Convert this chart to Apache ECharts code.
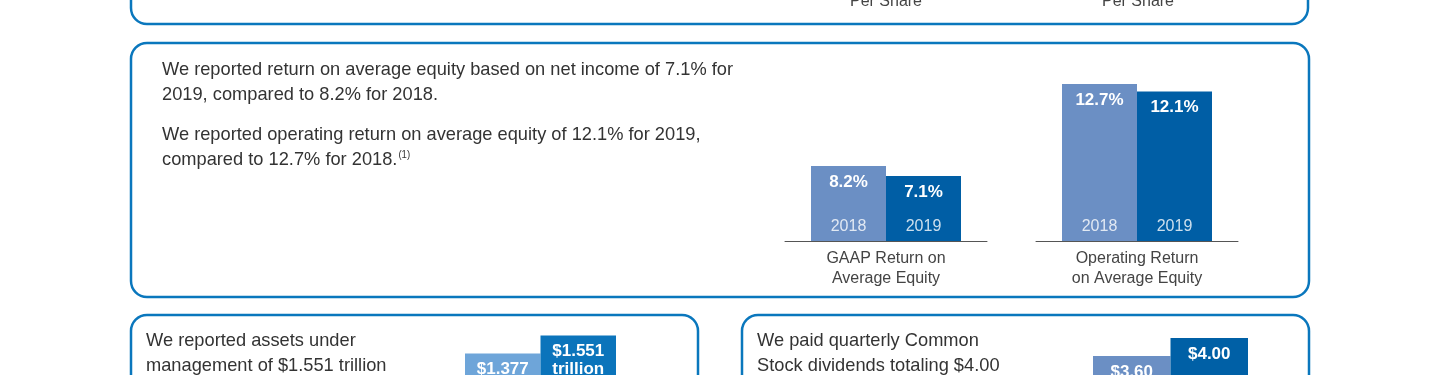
<!DOCTYPE html>
<html>
<head>
<meta charset="utf-8">
<script src="https://cdn.jsdelivr.net/npm/echarts@6/dist/echarts.min.js"></script>
<style>
  html, body { margin: 0; padding: 0; background: #fff; height: 375px; overflow: hidden; }
  /* the page carries on below the window; the lower charts are cut off like in the source */
  #chart { width: 1440px; height: 560px; }
</style>
</head>
<body>
<div id="chart"></div>
<script>
// data
const years = ['2018', '2019']
const gaapRoe = [8.2, 7.1]
const gaapRoeLabels = ['8.2%', '7.1%']
const operatingRoe = [12.7, 12.1]
const operatingRoeLabels = ['12.7%', '12.1%']
const aum = [1.377, 1.551]
const aumLabels = ['$1.377\ntrillion', '$1.551\ntrillion']
const dividends = [3.6, 4.0]
const dividendLabels = ['$3.60', '$4.00']

const BODY_FONT = '"Liberation Sans", Arial, sans-serif'
const LABEL_FONT = '"Liberation Sans", Arial, sans-serif'
const BORDER = '#0a77bd'

// body copy in the source is a condensed face; squeeze a regular one to the same measure
const ctx = document.createElement('canvas').getContext('2d')
ctx.font = '19px ' + BODY_FONT
const squeeze = 571 / ctx.measureText('We reported return on average equity based on net income of 7.1% for').width

const chart = echarts.init(document.getElementById('chart'))

// one small bar chart = a bar grid + a wider grid carrying the baseline and name
function barBlock(idx, cfg) {
  const grids = [
    { left: cfg.left, top: cfg.top, width: cfg.width, height: cfg.height },
    { left: cfg.left - 26, top: cfg.top, width: cfg.width + 52, height: cfg.height }
  ]
  const xAxes = [
    {
      type: 'category',
      gridIndex: idx * 2,
      data: years,
      z: 10,
      axisLine: { show: false },
      axisTick: { show: false },
      axisLabel: {
        inside: true,
        margin: 6,
        color: 'rgba(255,255,255,0.8)',
        fontFamily: LABEL_FONT,
        fontSize: 16
      }
    },
    {
      type: 'category',
      gridIndex: idx * 2 + 1,
      data: [cfg.name],
      axisLine: { show: !!cfg.name, lineStyle: { color: '#555', width: 1 } },
      axisTick: { show: false },
      axisLabel: {
        margin: 8,
        color: '#444',
        fontFamily: LABEL_FONT,
        fontSize: 16,
        lineHeight: 20
      }
    }
  ]
  const yAxes = [
    { type: 'value', gridIndex: idx * 2, min: 0, max: cfg.max, show: false },
    { type: 'value', gridIndex: idx * 2 + 1, min: 0, max: 1, show: false }
  ]
  const series = [{
    type: 'bar',
    xAxisIndex: idx * 2,
    yAxisIndex: idx * 2,
    barCategoryGap: '0%',
    data: cfg.values.map((v, i) => ({ value: v, itemStyle: { color: cfg.colors[i] } })),
    label: {
      show: true,
      position: 'insideTop',
      distance: 7,
      color: '#fff',
      fontFamily: LABEL_FONT,
      fontWeight: 'bold',
      fontSize: 17,
      lineHeight: 18,
      formatter: (p) => cfg.labels[p.dataIndex]
    }
  }]
  return { grids, xAxes, yAxes, series }
}

const blocks = [
  barBlock(0, { left: 811, width: 150, top: 149.5, height: 91.5, max: 10, values: gaapRoe, labels: gaapRoeLabels,
    colors: ['#6b8fc4', '#005ea5'], name: 'GAAP Return on\nAverage Equity' }),
  barBlock(1, { left: 1062, width: 150, top: 68, height: 173, max: 14, values: operatingRoe, labels: operatingRoeLabels,
    colors: ['#6b8fc4', '#005ea5'], name: 'Operating Return\non Average Equity' }),
  barBlock(2, { left: 465, width: 151, top: 289, height: 207, max: 2, values: aum, labels: aumLabels,
    colors: ['#6ea5d9', '#0b74bb'], name: '' }),
  barBlock(3, { left: 1093, width: 155, top: 293, height: 225, max: 5, values: dividends, labels: dividendLabels,
    colors: ['#6b8fc4', '#0060a6'], name: '' })
]

function box(x, y, w, h) {
  return {
    type: 'rect',
    shape: { x, y, width: w, height: h, r: 16 },
    style: { fill: 'none', stroke: BORDER, lineWidth: 2.5 },
    silent: true
  }
}

function bodyText(x, y, text) {
  return {
    type: 'text',
    x, y,
    scaleX: squeeze,
    style: {
      text,
      font: '19px ' + BODY_FONT,
      fill: '#333',
      lineHeight: 25,
      verticalAlign: 'middle',
      rich: {
        s: { fontSize: 10, fontFamily: BODY_FONT, fill: '#333', padding: [0, 0, 9, 1] }
      }
    },
    silent: true
  }
}

const option = {
  backgroundColor: '#fff',
  animation: false,
  grid: blocks.flatMap(b => b.grids),
  xAxis: blocks.flatMap(b => b.xAxes),
  yAxis: blocks.flatMap(b => b.yAxes),
  series: blocks.flatMap(b => b.series),
  graphic: [
    box(131, -40, 1177, 64),
    box(131, 43, 1178, 254),
    box(131, 315, 567, 300),
    box(742, 315, 567, 300),
    {
      type: 'text', x: 886, y: 2,
      style: { text: 'Per Share', font: '16px ' + LABEL_FONT, fill: '#444', align: 'center', verticalAlign: 'middle' }
    },
    {
      type: 'text', x: 1138, y: 2,
      style: { text: 'Per Share', font: '16px ' + LABEL_FONT, fill: '#444', align: 'center', verticalAlign: 'middle' }
    },
    bodyText(162, 70, 'We reported return on average equity based on net income of 7.1% for'),
    bodyText(162, 95, '2019, compared to 8.2% for 2018.'),
    bodyText(162, 135, 'We reported operating return on average equity of 12.1% for 2019,'),
    bodyText(162, 160, 'compared to 12.7% for 2018.{s|(1)}'),
    bodyText(146, 341, 'We reported assets under'),
    bodyText(146, 366, 'management of $1.551 trillion'),
    bodyText(757, 341, 'We paid quarterly Common'),
    bodyText(757, 366, 'Stock dividends totaling $4.00')
  ]
}

chart.setOption(option)
</script>
</body>
</html>
